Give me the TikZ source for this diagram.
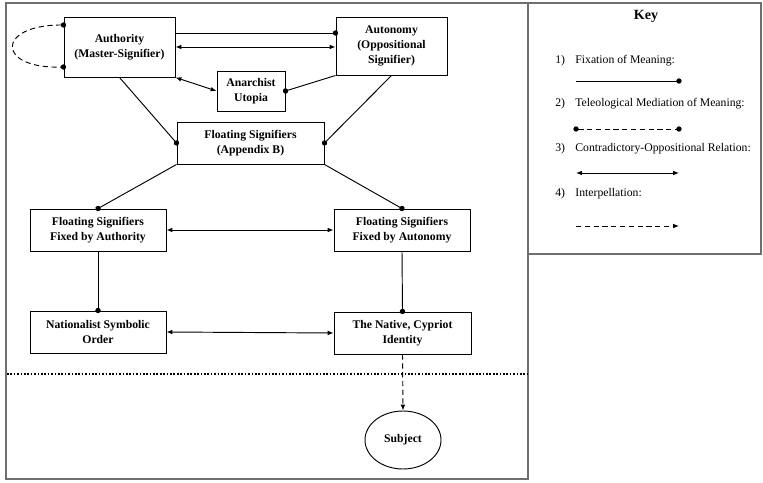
\documentclass[tikz,border=0pt]{standalone}
\usepackage{fontspec}
\setmainfont{Liberation Serif}
\usepackage{xcolor}
\usetikzlibrary{shapes,arrows,positioning}
\usetikzlibrary{calc}
\usetikzlibrary{arrows.meta}
\definecolor{framegray}{RGB}{110,110,110}
\tikzset{
  box/.style={draw, rectangle, align=center, font=\fontsize{10}{12.5}\selectfont\bfseries},
  longdash/.style={dash pattern=on 4.5pt off 3pt},
  fix/.style={-{Circle[length=4.5pt]}, shorten >=-2.2pt},
  mediate/.style={longdash, {Circle[length=4.5pt]}-{Circle[length=4.5pt]}, shorten >=-2.2pt, shorten <=-2.2pt},
  oppose/.style={{Latex[length=5pt,width=4pt]}-{Latex[length=5pt,width=4pt]}},
  interpel/.style={longdash, -{Latex[length=5pt,width=4pt]}},
  keytext/.style={anchor=west, font=\fontsize{10}{12}\selectfont}
}

\begin{document}
\begin{tikzpicture}[x=0.03cm, y=-0.03cm, line width=0.8pt]
   \useasboundingbox (0,0) rectangle (763,483);
   \draw[framegray, line width=1pt] (6,3) rectangle (528,479);
   \draw[framegray, line width=1pt] (528,3) rectangle (761,254);
   %
   \node[box, minimum width=3.33cm, minimum height=1.8cm] (auth) at (119.5,47) {Authority\\(Master-Signifier)};
   \node[box, minimum width=3.33cm, minimum height=1.74cm] (auton) at (391.5,46) {Autonomy\\(Oppositional\\Signifier)};
   \node[box, minimum width=2.04cm, minimum height=1.2cm] (utopia) at (251,91) {Anarchist\\Utopia};
   \node[box, minimum width=4.41cm, minimum height=1.26cm] (floating) at (250.5,143) {Floating Signifiers\\(Appendix B)};
   \node[box, minimum width=4.08cm, minimum height=1.26cm] (fixauth) at (98,230) {Floating Signifiers\\Fixed by Authority};
   \node[box, minimum width=4.08cm, minimum height=1.26cm] (fixauton) at (402,230) {Floating Signifiers\\Fixed by Autonomy};
   \node[box, minimum width=4.08cm, minimum height=1.26cm] (nation) at (98,332) {Nationalist Symbolic\\Order};
   \node[box, minimum width=4.11cm, minimum height=1.26cm] (native) at (402.5,333) {The Native, Cypriot\\Identity};
   \node[box, ellipse, minimum width=2.28cm, minimum height=1.74cm] (subject) at (403,440) {Subject};
   %
   \draw[mediate] ($(auth.west)+(0,-22)$) .. controls (-4,25) and (-4,69) .. ($(auth.west)+(0,20)$);
   \draw[fix] ($(auth.east)+(0,-14)$) -- ($(auth.east -| auton.west)+(0,-14)$);
   \draw[oppose] (auth.east) -- (auth.east -| auton.west);
   \draw[oppose] (auth.south east) -- (utopia.west);
   \draw[fix] (auton.south west) -- (utopia.east);
   \draw[fix] (auth.south) -- (floating.west);
   \draw[fix] (auton.south) -- (floating.east);
   \draw[fix] (floating.south west) -- (fixauth.north);
   \draw[fix] (floating.south east) -- (fixauton.north);
   \draw[oppose] (fixauth.east) -- (fixauton.west);
   \draw[fix] (fixauth.south) -- (nation.north);
   \draw[fix] (fixauton.south) -- (native.north);
   \draw[oppose] (nation.east) -- (native.west);
   \draw[interpel] (native.south) -- (subject.north);
   %
   \draw[line width=1.4pt, dash pattern=on 1.4pt off 1.5pt] (7,374) -- (527,374);
   %
   \node[font=\fontsize{12}{14}\selectfont\bfseries] (key) at (646,16) {Key};
   \foreach \n/\txt/\y in {1/Fixation of Meaning:/61, 2/Teleological Mediation of Meaning:/104,
                           3/Contradictory-Oppositional Relation:/149, 4/Interpellation:/194} {
     \node[keytext] (num\n) at (551,\y) {\n)};
     \node[keytext] (item\n) at (571,\y) {\txt};
   }
   \coordinate (a1) at (576,81);  \coordinate (b1) at (679,81);
   \coordinate (a2) at (576,129); \coordinate (b2) at (679,129);
   \coordinate (a3) at (576,173); \coordinate (b3) at (679,173);
   \coordinate (a4) at (576,226); \coordinate (b4) at (679,226);
   \draw[fix] (a1) -- (b1);
   \draw[mediate] (a2) -- (b2);
   \draw[oppose] (a3) -- (b3);
   \draw[interpel] (a4) -- (b4);
\end{tikzpicture}
\end{document}
